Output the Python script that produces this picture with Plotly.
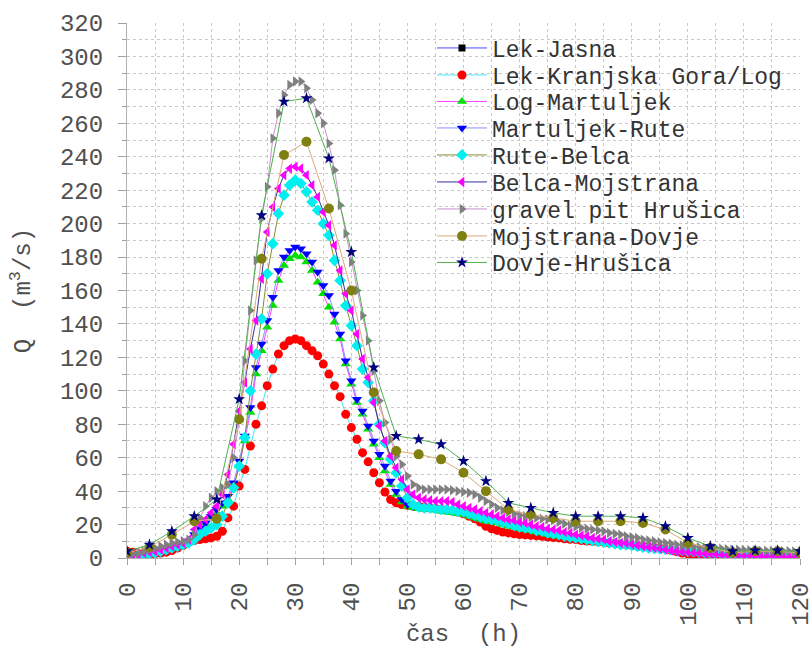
import plotly.graph_objects as go

# ---------------- data ----------------
hours = list(range(0, 121))
hours_4 = list(range(0, 121, 4))

lek_jasna_t = [None]
lek_jasna_q = [None]

lek_kranjska_q = [
    4, 3.5, 3, 2.5, 2, 2.5, 3, 3.5, 4.5, 6,
    7.5, 9.5, 10.5, 11, 11.5, 12, 13, 16, 24, 31,
    43, 53, 67, 80, 91, 103, 113, 122, 127, 130,
    131, 130, 127, 124, 121, 116, 110, 103, 96.5, 86,
    78, 71, 63, 57.5, 51, 45, 39.5, 35, 33, 32,
    31.5, 31, 31, 30.5, 30, 29.5, 29, 28.5, 28, 27.5,
    26.5, 25, 23.5, 21.5, 19, 17.5, 16.5, 15.5, 15, 14.5,
    14, 13.8, 13.5, 13.2, 13, 12.5, 12.2, 12, 11.5, 11.2,
    11, 10.5, 10.2, 10, 9.7, 9.4, 9, 8.7, 8.3, 8,
    7.6, 7.3, 7, 6.6, 6.2, 5.8, 5.3, 4.6, 3.8, 3,
    2.5, 2, 1.5, 1.2, 0.9, 0.7, 0.6, 0.5, 0.5, 0.5,
    0.5, 0.5, 0.5, 0.5, 0.5, 0.5, 0.5, 0.5, 0.5, 0.5,
    0.5,
]

log_martuljek_q = [
    1, 1.5, 2, 2.5, 3, 3.5, 4.5, 5.5, 6.5, 7,
    8, 9.5, 13, 17, 20, 24, 27, 31, 35, 43,
    55, 70, 87, 110, 124, 138, 151, 166, 175, 179,
    181, 180, 177, 172, 165, 158, 150, 141, 131, 116,
    104, 93, 86, 77, 68, 60, 52, 44, 38, 33.5,
    31, 30, 29.5, 29, 29, 28.5, 28, 27.5, 27, 26.5,
    26, 25, 24, 23, 22, 21.5, 21, 20, 19, 18.5,
    17.5, 17, 16.5, 15.5, 15, 14, 13.5, 13, 12.5, 12,
    11.5, 11, 10.5, 10, 9.5, 9, 8.5, 8, 7.5, 7,
    6.8, 6.5, 6, 5.5, 5.2, 5, 4.8, 4.5, 4.2, 4,
    3.8, 3.5, 3.3, 3, 2.8, 2.6, 2.4, 2.2, 2, 1.9,
    1.8, 1.7, 1.6, 1.5, 1.4, 1.3, 1.2, 1.2, 1.1, 1.1,
    1,
]

martuljek_rute_q = [
    1, 1.5, 2, 2.5, 3, 3.5, 4.5, 5.5, 6.5, 7.5,
    8.5, 10, 14, 18, 21, 25, 29, 33, 37, 45,
    58, 73, 90, 114, 128, 142, 156, 172, 180, 184,
    186, 185, 182, 177, 171, 163, 157, 146, 134, 118,
    106, 95, 88, 79, 70, 62, 55, 46, 40, 35,
    32, 31, 30.5, 30, 30, 29.5, 29, 28.5, 28, 27.5,
    27, 26, 25, 24, 23, 22.5, 22, 21, 20, 19.5,
    18.5, 18, 17.5, 16.5, 16, 15, 14.5, 14, 13.5, 13,
    12.5, 12, 11.5, 11, 10.5, 10, 9.5, 9, 8.5, 8,
    7.5, 7, 6.5, 6, 5.8, 5.5, 5.2, 5, 4.7, 4.5,
    4.2, 4, 3.8, 3.5, 3.2, 3, 2.8, 2.6, 2.4, 2.2,
    2, 2, 1.9, 1.8, 1.7, 1.6, 1.5, 1.5, 1.4, 1.4,
    1.3,
]

rute_belca_q = [
    0.5, 1, 1.5, 2, 2.5, 3, 4, 5, 6, 7,
    8, 9, 11, 14, 16, 18, 20, 25, 33, 42,
    55, 72, 100, 122, 143, 170, 188, 206, 217, 223,
    226, 224, 219, 213, 208, 200, 193, 178, 166, 151,
    139, 127, 113, 105, 94, 80, 69, 59, 51, 43,
    36, 32, 30.5, 30, 30, 29.5, 29, 29, 28.5, 28,
    27.5, 26.5, 25.5, 24.5, 23.5, 23, 22.5, 21.5, 20.5, 19.5,
    18.5, 18, 17.5, 16.5, 16, 15, 14.5, 14, 13, 12.5,
    12, 11.5, 11, 10.5, 10, 9.5, 9, 8.5, 8, 8,
    7.5, 7, 6.5, 6, 5.8, 5.5, 5.2, 5, 4.8, 4.5,
    4, 3.8, 3.5, 3.2, 3, 2.8, 2.5, 2.2, 2, 1.9,
    1.8, 1.7, 1.6, 1.5, 1.4, 1.3, 1.2, 1.1, 1.1, 1,
    1,
]

belca_mojstrana_q = [
    1, 1.5, 2, 3, 3.5, 4, 5, 6, 7, 8,
    9, 11, 17, 20, 23, 27, 31, 38, 50, 68,
    88, 105, 125, 142, 167, 195, 210, 221, 229, 233,
    234, 233, 229, 223, 216, 207, 199, 187, 172, 158,
    148, 134, 119, 108, 93, 79, 70, 61, 54, 47,
    41, 38, 36, 35, 34.5, 34, 34, 34, 33.5, 32,
    31, 30, 29, 28, 27, 26, 25, 24, 23, 22.5,
    21.5, 21, 20, 19, 18.5, 17.5, 17, 16.5, 15.5, 15,
    14, 13.5, 13, 12, 11.5, 11, 10, 9.5, 9, 8.8,
    8.2, 7.5, 7, 6.5, 6, 5.5, 5, 4.5, 4, 3.8,
    3.5, 3.2, 3, 2.7, 2.5, 2.2, 2, 1.8, 1.6, 1.5,
    1.4, 1.3, 1.2, 1.1, 1, 1, 0.9, 0.9, 0.8, 0.8,
    0.8,
]

gravel_pit_q = [
    2, 2.5, 3, 4, 5, 6, 7, 8, 9, 9.5,
    10, 11, 14, 24, 31, 36, 40, 42, 44, 60,
    82, 118, 148, 178, 203, 222, 251, 266, 277, 283,
    285, 285, 281, 274, 266, 260, 248, 232, 211, 194,
    177, 160, 145, 130, 112, 94, 81, 71, 61, 56,
    49, 44, 42, 41, 41, 41, 41, 41, 40.5, 40,
    39.5, 39, 38, 36, 34, 32, 30, 28.5, 27.5, 26.5,
    25.5, 25, 24.5, 24, 23.5, 23, 22.5, 21.5, 20.5, 19.5,
    18.7, 18, 17.5, 17, 16.5, 16, 15, 14.5, 14, 13,
    12.5, 12, 11, 10.5, 10, 9.5, 9, 8.5, 8, 7.5,
    7, 6.8, 6.5, 6.2, 6, 5.8, 5.5, 5.3, 5, 5,
    4.8, 4.7, 4.5, 4.4, 4.3, 4.2, 4.1, 4, 4, 3.9,
    3.8,
]

mojstrana_dovje_q = [
    3, 6.5, 14, 22, 23.5, 83, 179, 241, 249, 209,
    160, 99, 64, 62, 59, 51, 40, 29, 26, 24,
    22, 22, 22, 21, 17, 9, 6, 3, 4, 4,
    3,
]

dovje_hrusica_q = [
    4, 8, 16, 25, 35, 95, 205, 273, 275, 239,
    183, 114, 73, 71, 68, 58, 46, 33, 30, 27,
    25, 25, 25, 24, 19, 12, 7, 4, 4.5, 4.5,
    4,
]

x_ticks = [0, 10, 20, 30, 40, 50, 60, 70, 80, 90, 100, 110, 120]
y_ticks = [0, 20, 40, 60, 80, 100, 120, 140, 160, 180, 200, 220, 240, 260, 280, 300, 320]

series = [
    ("Lek-Jasna", lek_jasna_t, lek_jasna_q, "#4a4aff", "#000000", "square", 7),
    ("Lek-Kranjska Gora/Log", hours, lek_kranjska_q, "#40e8f0", "#ff0000", "circle", 9),
    ("Log-Martuljek", hours, log_martuljek_q, "#ff40ff", "#00e000", "triangle-up", 9),
    ("Martuljek-Rute", hours, martuljek_rute_q, "#8c8cff", "#0000ff", "triangle-down", 9),
    ("Rute-Belca", hours, rute_belca_q, "#8a8a30", "#00f0f0", "diamond", 9),
    ("Belca-Mojstrana", hours, belca_mojstrana_q, "#3030a0", "#ff00ff", "triangle-left", 9),
    ("gravel pit Hrušica", hours, gravel_pit_q, "#c890d0", "#808080", "triangle-right", 9),
    ("Mojstrana-Dovje", hours_4, mojstrana_dovje_q, "#dca878", "#808010", "circle", 10),
    ("Dovje-Hrušica", hours_4, dovje_hrusica_q, "#50b050", "#000080", "star", 9),
]

FONT = "Liberation Mono, Courier New, monospace"
TXT = "#505050"

# plot area in pixels (used for legend placement)
PL, PR, PT, PB = 127, 800, 23, 558
row_px = [48, 75, 101.5, 128, 155, 182, 209, 236, 262.5]

fig = go.Figure()
layout_legends = {}
for i, (name, tx, q, lc, mc, sym, ms) in enumerate(series):
    key = "legend" if i == 0 else f"legend{i + 1}"
    fig.add_trace(go.Scatter(
        x=tx, y=q, name=name, mode="lines+markers",
        line=dict(color=lc, width=1),
        marker=dict(color=mc, symbol=sym, size=ms, line=dict(width=0)),
        legend=key,
    ))
    layout_legends[key] = dict(
        x=(432 - PL) / (PR - PL), xanchor="left",
        y=(PB - row_px[i]) / (PB - PT), yanchor="middle",
        bgcolor="rgba(0,0,0,0)", borderwidth=0,
        font=dict(family=FONT, size=23, color="#333333"),
        itemwidth=50,
    )

fig.update_layout(
    width=809, height=648,
    margin=dict(l=PL, r=809 - PR, t=PT, b=648 - PB),
    paper_bgcolor="white", plot_bgcolor="white",
    font=dict(family=FONT, color=TXT),
    showlegend=True,
    **layout_legends,
)

fig.update_xaxes(
    range=[0, 120], tickvals=x_ticks, ticktext=[str(v) for v in x_ticks],
    tickangle=-90, tickfont=dict(family=FONT, size=24, color=TXT),
    ticks="outside", ticklen=6, tickcolor="#a0a0a0", tickwidth=1,
    showline=True, linecolor="#b0b0b0", linewidth=1,
    showgrid=False, zeroline=False, automargin=False,
    ticklabeloverflow="allow",
    minor=dict(dtick=5, tick0=0, ticks="outside", ticklen=6, tickcolor="#a0a0a0",
               showgrid=True, gridcolor="#c8c8c8", griddash="dot", gridwidth=1),
    title=dict(text="čas  (h)", font=dict(family=FONT, size=24, color=TXT), standoff=9),
    ticklabelstandoff=8,
)
fig.update_yaxes(
    range=[0, 320], tickvals=y_ticks, ticktext=[str(v) for v in y_ticks],
    tickfont=dict(family=FONT, size=24, color=TXT),
    ticks="outside", ticklen=8, tickcolor="#a0a0a0", tickwidth=1,
    showline=True, linecolor="#b0b0b0", linewidth=1,
    showgrid=False, zeroline=False, automargin=False,
    minor=dict(dtick=10, tick0=0, ticks="outside", ticklen=4, tickcolor="#a0a0a0",
               showgrid=True, gridcolor="#c8c8c8", griddash="dot", gridwidth=1),
    title=dict(text="Q  (m<sup>3</sup>/s)", font=dict(family=FONT, size=24, color=TXT), standoff=22),
    ticklabelstandoff=10,
)

fig.write_html(
    "out.html",
    config={"displayModeBar": False},
    post_script="document.body.style.margin='0px';document.body.style.overflow='hidden';",
)
